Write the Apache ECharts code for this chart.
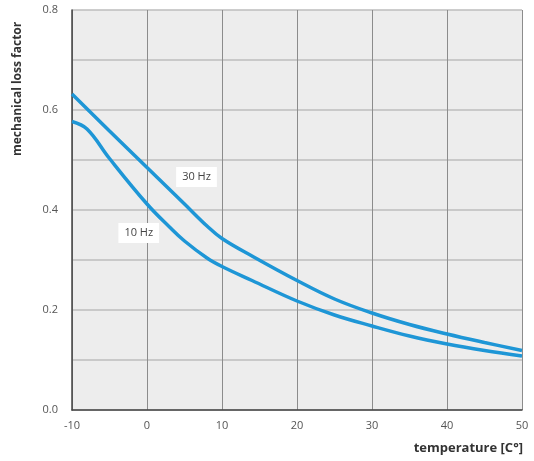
<!DOCTYPE html>
<html>
<head>
<meta charset="utf-8">
<script src="https://cdn.jsdelivr.net/npm/echarts@6/dist/echarts.min.js"></script>
<style>
html,body{margin:0;padding:0;background:#fff;}
#c{width:534px;height:461px;}
</style>
</head>
<body>
<div id="c"></div>
<script>
var temps30 = [-10, -5, 0, 5, 8, 10, 14, 20, 25, 30, 35, 40, 45, 50];
var loss30 = [0.632, 0.558, 0.485, 0.412, 0.368, 0.343, 0.308, 0.259, 0.222, 0.194, 0.171, 0.152, 0.135, 0.119];
var temps10 = [-10, -8, -5, 0, 3, 5, 8, 10, 14, 20, 25, 30, 35, 40, 45, 50];
var loss10 = [0.577, 0.562, 0.503, 0.412, 0.366, 0.338, 0.304, 0.287, 0.259, 0.218, 0.190, 0.168, 0.148, 0.132, 0.119, 0.108];
var seriesNames = ['30 Hz', '10 Hz'];
var labelPos = [[6.6, 0.466], [-1.1, 0.354]];
var xTicks = [-10, 0, 10, 20, 30, 40, 50];
var yTicks = [0.0, 0.2, 0.4, 0.6, 0.8];

function pairs(xs, ys){ return xs.map(function(x,i){return [x, ys[i]];}); }

var chart = echarts.init(document.getElementById('c'));
var font = '"Open Sans", "Noto Sans", sans-serif';
var lineColor = '#1e96d6';
function mk(name, data, pos){
  return {
    type:'line', name:name, data:data, smooth:0.4, showSymbol:false, symbol:'none',
    lineStyle:{color:lineColor, width:3.5}, z:3,
    markPoint:{
      symbol:'rect', symbolSize:0, silent:true,
      data:[{coord:pos, value:name}],
      label:{show:true, position:'inside', formatter:name, color:'#444', fontFamily:font, fontSize:11,
        backgroundColor:'#fff', padding:[5,6,4,6]}
    }
  };
}
chart.setOption({
  animation:false,
  textStyle:{fontFamily:font},
  grid:{left:72, right:12, top:10, bottom:51, show:true, backgroundColor:'#ededed', borderWidth:0},
  xAxis:{
    type:'value', min:-10, max:50, interval:10,
    axisLine:{show:true, lineStyle:{color:'#444', width:1.5}},
    axisTick:{show:false},
    axisLabel:{color:'#555', fontSize:11, fontFamily:font, margin:10,
      formatter:function(v){ return xTicks.indexOf(v)>=0 ? String(v) : ''; }},
    splitLine:{show:true, lineStyle:{color:'#8c8c8c', width:1}}
  },
  yAxis:{
    type:'value', min:0, max:0.8, interval:0.1,
    axisLine:{show:true, onZero:false, lineStyle:{color:'#444', width:1.5}},
    axisTick:{show:false},
    axisLabel:{color:'#555', fontSize:11, fontFamily:font, margin:14,
      formatter:function(v){
        for (var i=0;i<yTicks.length;i++){ if (Math.abs(yTicks[i]-v)<1e-6) return yTicks[i].toFixed(1); }
        return '';
      }},
    splitLine:{show:true, lineStyle:{color:'#bcbcbc', width:1.5}}
  },
  graphic:[
    {type:'text', x:523, y:448, style:{text:'temperature [C°]', fill:'#333', font:'bold 13px "Open Sans", sans-serif', textAlign:'right', textVerticalAlign:'middle'}},
    {type:'text', x:18, y:156, rotation:Math.PI/2, style:{text:'mechanical loss factor', fill:'#333', font:'bold 12px "Open Sans", sans-serif', textAlign:'left', textVerticalAlign:'middle'}}
  ],
  series:[mk(seriesNames[0], pairs(temps30, loss30), labelPos[0]), mk(seriesNames[1], pairs(temps10, loss10), labelPos[1])]
});
</script>
</body>
</html>
